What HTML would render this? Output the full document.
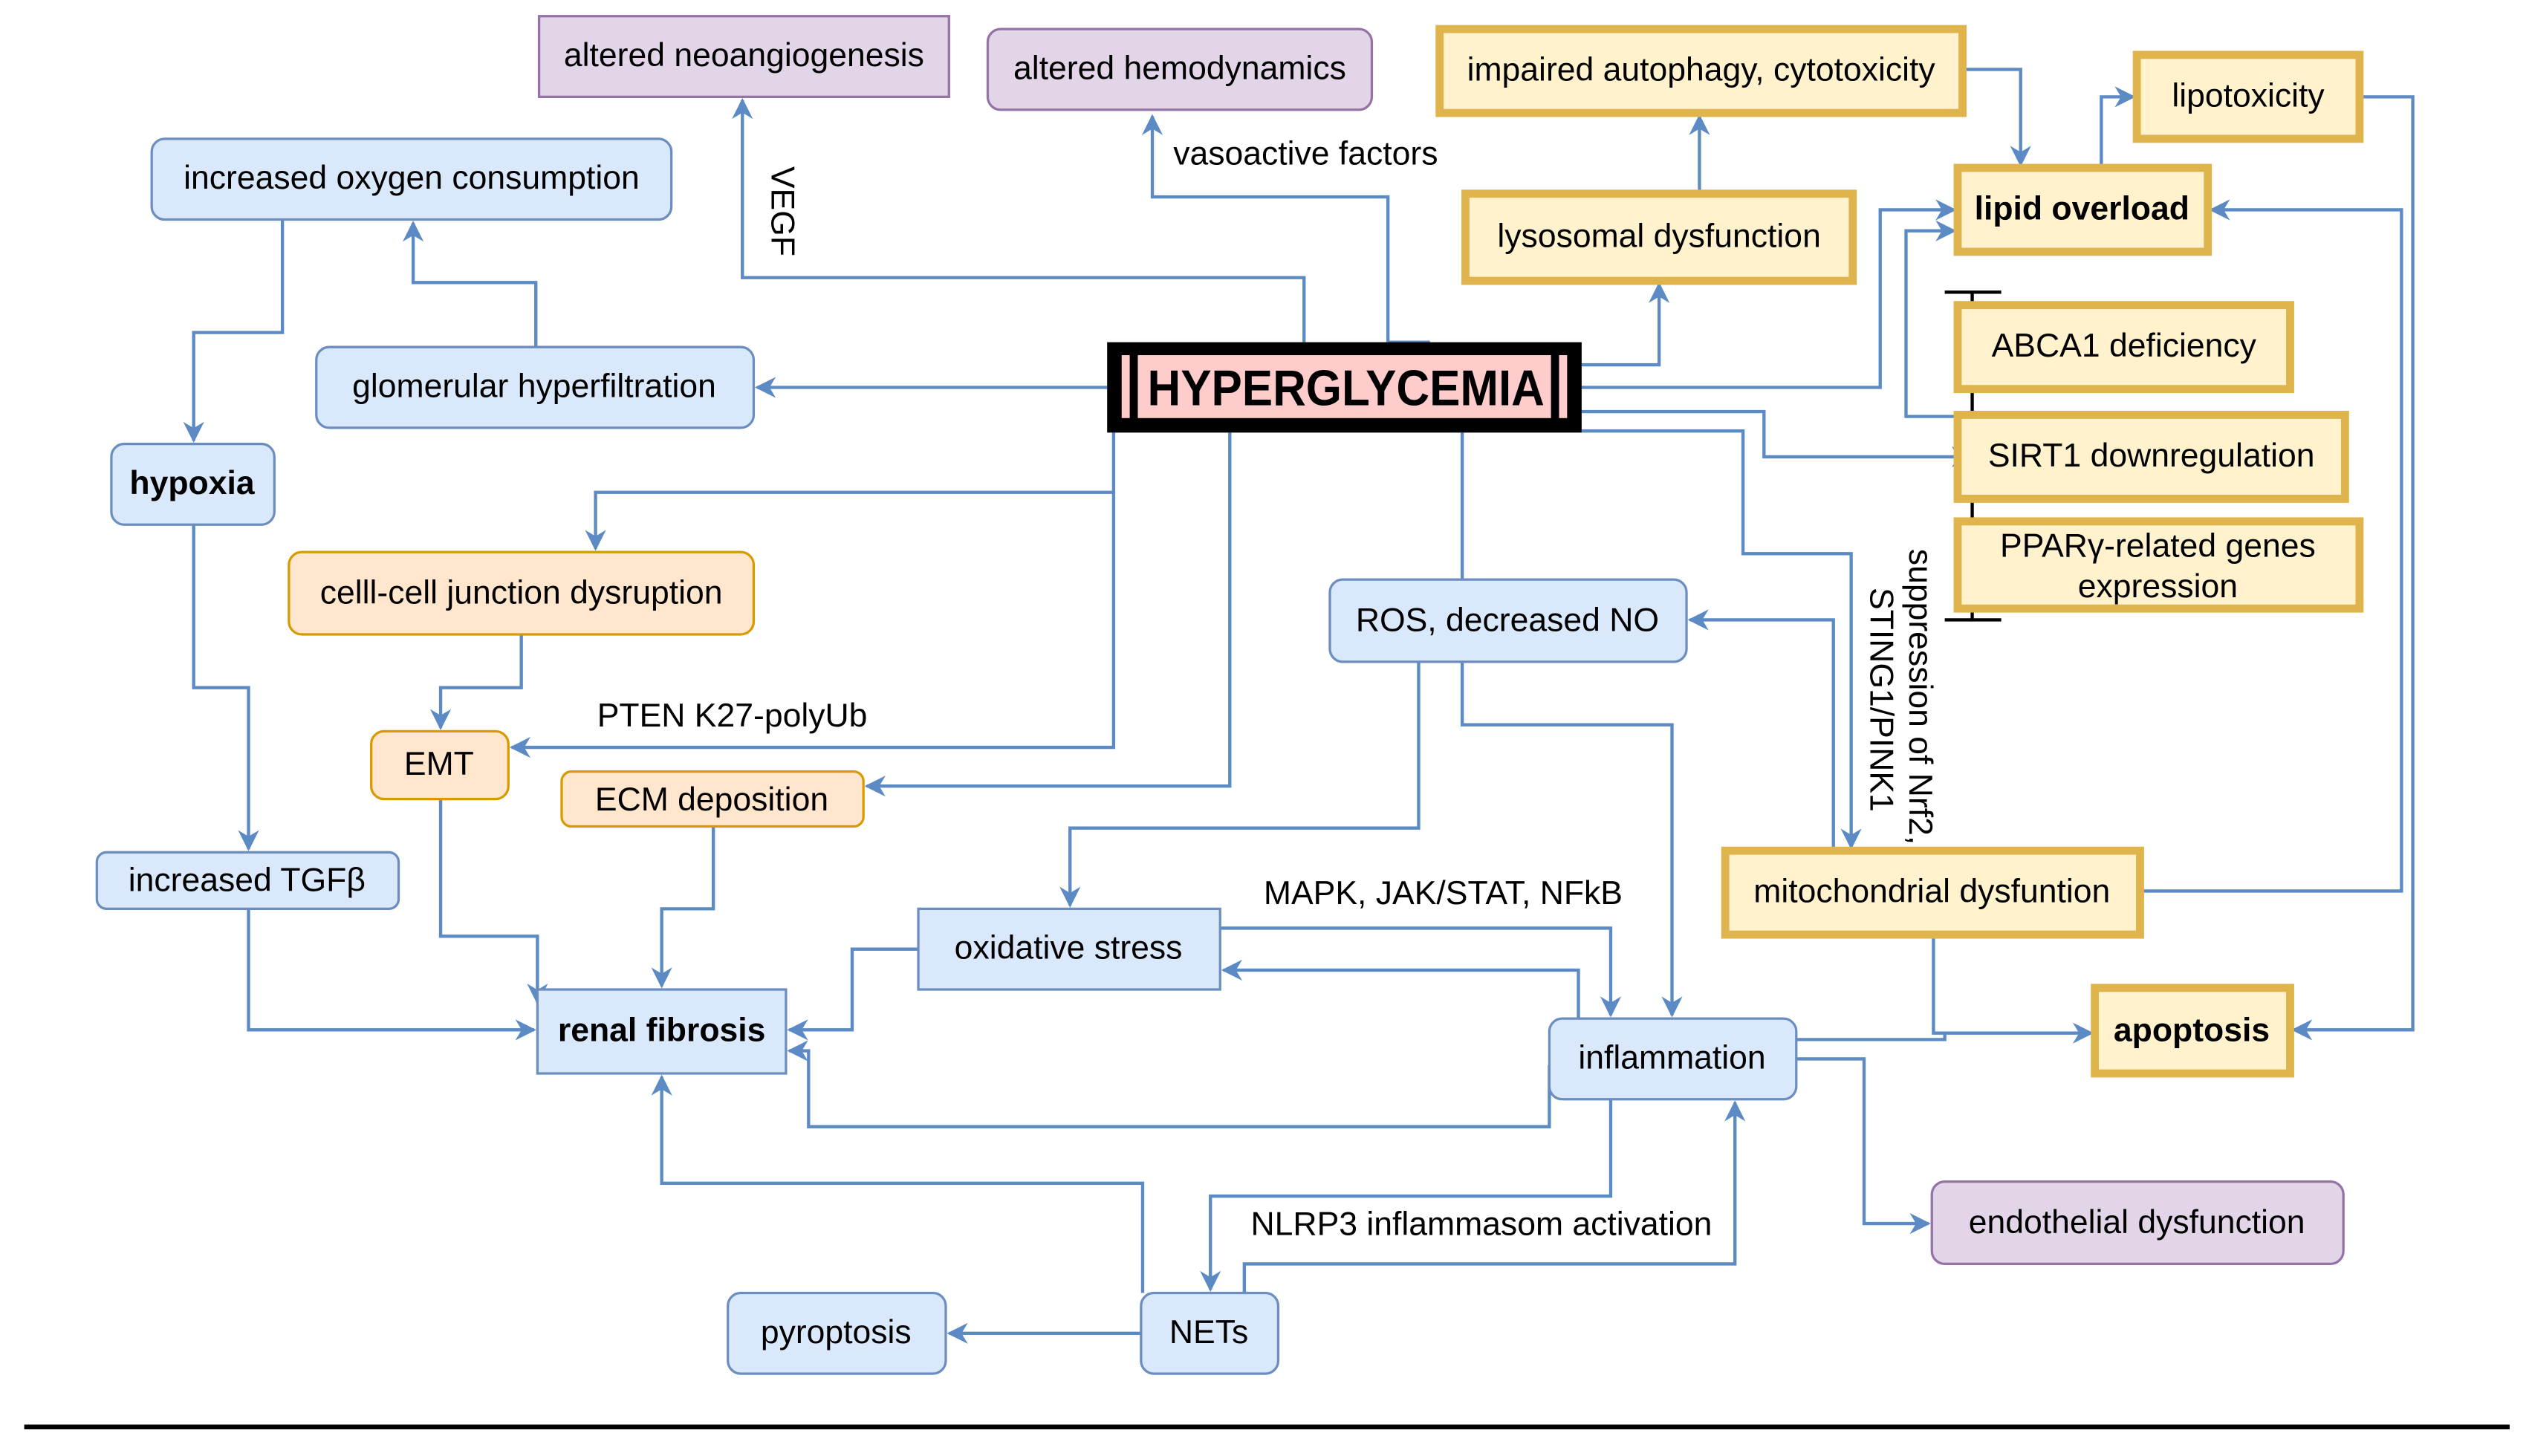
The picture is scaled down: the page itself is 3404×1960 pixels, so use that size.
<!DOCTYPE html>
<html><head><meta charset="utf-8"><style>
html,body{margin:0;padding:0;background:#fff;}
svg{display:block;}
text{font-family:"Liberation Sans",Arial,sans-serif;font-size:20.5px;fill:#000;}
.b{fill:#dae8fc;stroke:#6c8ebf;stroke-width:1.5;}
.p{fill:#e1d5e7;stroke:#9673a6;stroke-width:1.5;}
.o{fill:#ffe6cc;stroke:#d79b00;stroke-width:1.5;}
.y{fill:#fff2cc;stroke:#e0b44c;stroke-width:5;}
.e{fill:none;stroke:#5b8ac5;stroke-width:2;marker-end:url(#a);}
.n{fill:none;stroke:#5b8ac5;stroke-width:2;}
.hg{font-size:31px;font-weight:bold;}
</style></head><body>
<svg width="3404" height="1960" viewBox="0 0 1567 902" preserveAspectRatio="none" xmlns="http://www.w3.org/2000/svg">
<defs><marker id="a" viewBox="0 0 10 10" refX="9" refY="5" markerWidth="13" markerHeight="13" orient="auto" markerUnits="userSpaceOnUse"><path d="M0,0 L10,5 L0,10 L3,5 z" fill="#5b8ac5"/></marker></defs>

<!-- edges -->
<polyline class="e" points="686,240 469,240"/>
<polyline class="e" points="332,215 332,175 256,175 256,138"/>
<polyline class="e" points="175,136 175,206 120,206 120,273"/>
<polyline class="e" points="120,325 120,426 154,426 154,526"/>
<polyline class="e" points="154,563 154,638 331,638"/>
<polyline class="e" points="808,212 808,172 460,172 460,62"/>
<polyline class="e" points="860,212 860,122 714,122 714,72"/>
<polyline class="n" points="860,212 886,212"/>
<polyline class="e" points="980,226 1028,226 1028,176"/>
<polyline class="e" points="1053,120 1053,72"/>
<polyline class="e" points="1216,43 1252,43 1252,102"/>
<polyline class="e" points="1302,104 1302,60 1322,60"/>
<polyline class="e" points="1462,60 1495,60 1495,638 1421,638"/>
<polyline class="e" points="980,240 1165,240 1165,130 1211,130"/>
<polyline class="e" points="1213,258 1181,258 1181,143 1211,143"/>
<polyline class="e" points="980,255 1093,255 1093,283 1221,283"/>
<polyline class="e" points="980,267 1080,267 1080,343 1147,343 1147,525"/>
<polyline class="e" points="1136,527 1136,384 1047,384"/>
<polyline class="e" points="1326,552 1488,552 1488,130 1370,130"/>
<polyline class="e" points="1198,579 1198,640 1296,640"/>
<polyline class="n" points="1113,644 1205,644 1205,640"/>
<polyline class="e" points="1113,656 1155,656 1155,758 1195,758"/>
<polyline class="n" points="906,268 906,359"/>
<polyline class="e" points="906,410 906,449 1036,449 1036,629"/>
<polyline class="e" points="879,410 879,513 663,513 663,561"/>
<polyline class="e" points="756,575 998,575 998,629"/>
<polyline class="e" points="978,631 978,601 758,601"/>
<polyline class="e" points="569,588 528,588 528,638 489,638"/>
<polyline class="e" points="960,660 960,698 501,698 501,651 489,651"/>
<polyline class="e" points="998,681 998,741 750,741 750,799"/>
<polyline class="e" points="771,801 771,783 1075,783 1075,683"/>
<polyline class="e" points="707,826 588,826"/>
<polyline class="e" points="708,801 708,733 410,733 410,667"/>
<polyline class="e" points="690,268 690,305 369,305 369,340"/>
<polyline class="e" points="323,393 323,426 273,426 273,451"/>
<polyline class="e" points="690,305 690,463 317,463"/>
<polyline class="e" points="762,268 762,487 537,487"/>
<polyline class="e" points="273,495 273,580 333,580 333,621"/>
<polyline class="e" points="442,512 442,563 410,563 410,611"/>

<!-- inhibition bar -->
<line x1="1222" y1="181" x2="1222" y2="384" stroke="#000" stroke-width="2"/>
<line x1="1205" y1="181" x2="1240" y2="181" stroke="#000" stroke-width="2"/>
<line x1="1205" y1="384" x2="1240" y2="384" stroke="#000" stroke-width="2"/>

<!-- nodes -->
<rect class="p" x="334" y="10" width="254" height="50"/><text x="461" y="41" text-anchor="middle">altered neoangiogenesis</text>
<rect class="p" x="612" y="18" width="238" height="50" rx="8"/><text x="731" y="49" text-anchor="middle">altered hemodynamics</text>
<rect class="y" x="892" y="18" width="324" height="52"/><text x="1054" y="50" text-anchor="middle">impaired autophagy, cytotoxicity</text>
<rect class="y" x="1324" y="34" width="138" height="52"/><text x="1393" y="66" text-anchor="middle">lipotoxicity</text>
<rect class="b" x="94" y="86" width="322" height="50" rx="8"/><text x="255" y="117" text-anchor="middle">increased oxygen consumption</text>
<rect class="y" x="908" y="120" width="240" height="54"/><text x="1028" y="153" text-anchor="middle">lysosomal dysfunction</text>
<rect class="y" x="1213" y="104" width="155" height="52"/><text x="1290" y="136" text-anchor="middle" font-weight="bold">lipid overload</text>
<rect class="b" x="196" y="215" width="271" height="50" rx="8"/><text x="331" y="246" text-anchor="middle">glomerular hyperfiltration</text>
<rect x="686" y="212" width="294" height="56" fill="#000"/>
<rect x="695" y="220" width="276" height="39" fill="#ffcccc"/>
<rect x="700" y="218" width="5" height="43" fill="#000"/><rect x="961" y="218" width="5" height="43" fill="#000"/>
<text x="834" y="251" text-anchor="middle" class="hg" textLength="246" lengthAdjust="spacingAndGlyphs">HYPERGLYCEMIA</text>
<rect class="y" x="1213" y="189" width="206" height="52"/><text x="1316" y="221" text-anchor="middle">ABCA1 deficiency</text>
<rect class="y" x="1213" y="257" width="240" height="52"/><text x="1333" y="289" text-anchor="middle">SIRT1 downregulation</text>
<rect class="y" x="1213" y="323" width="249" height="54"/><text x="1337" y="345" text-anchor="middle">PPARγ-related genes</text><text x="1337" y="370" text-anchor="middle">expression</text>
<rect class="b" x="69" y="275" width="101" height="50" rx="8"/><text x="119" y="306" text-anchor="middle" font-weight="bold">hypoxia</text>
<rect class="o" x="179" y="342" width="288" height="51" rx="8"/><text x="323" y="374" text-anchor="middle">celll-cell junction dysruption</text>
<rect class="b" x="824" y="359" width="221" height="51" rx="8"/><text x="934" y="391" text-anchor="middle">ROS, decreased NO</text>
<rect class="o" x="230" y="453" width="85" height="42" rx="8"/><text x="272" y="480" text-anchor="middle">EMT</text>
<rect class="o" x="348" y="478" width="187" height="34" rx="6"/><text x="441" y="502" text-anchor="middle">ECM deposition</text>
<rect class="b" x="60" y="528" width="187" height="35" rx="6"/><text x="153" y="552" text-anchor="middle">increased TGFβ</text>
<rect class="y" x="1069" y="527" width="257" height="52"/><text x="1197" y="559" text-anchor="middle">mitochondrial dysfuntion</text>
<rect class="b" x="569" y="563" width="187" height="50"/><text x="662" y="594" text-anchor="middle">oxidative stress</text>
<rect class="b" x="333" y="613" width="154" height="52"/><text x="410" y="645" text-anchor="middle" font-weight="bold">renal fibrosis</text>
<rect class="b" x="960" y="631" width="153" height="50" rx="8"/><text x="1036" y="662" text-anchor="middle">inflammation</text>
<rect class="y" x="1298" y="612" width="121" height="53"/><text x="1358" y="645" text-anchor="middle" font-weight="bold">apoptosis</text>
<rect class="p" x="1197" y="732" width="255" height="51" rx="8"/><text x="1324" y="764" text-anchor="middle">endothelial dysfunction</text>
<rect class="b" x="451" y="801" width="135" height="50" rx="8"/><text x="518" y="832" text-anchor="middle">pyroptosis</text>
<rect class="b" x="707" y="801" width="85" height="50" rx="8"/><text x="749" y="832" text-anchor="middle">NETs</text>

<!-- labels -->
<text x="727" y="102">vasoactive factors</text>
<text transform="translate(478,103) rotate(90)">VEGF</text>
<text x="370" y="450">PTEN K27-polyUb</text>
<text x="783" y="560">MAPK, JAK/STAT, NFkB</text>
<text x="775" y="765">NLRP3 inflammasom activation</text>
<text transform="translate(1183,340) rotate(90)">suppression of Nrf2,</text>
<text transform="translate(1159,364) rotate(90)">STING1/PINK1</text>

<line x1="15" y1="884" x2="1555" y2="884" stroke="#000" stroke-width="3"/>
</svg>
</body></html>
